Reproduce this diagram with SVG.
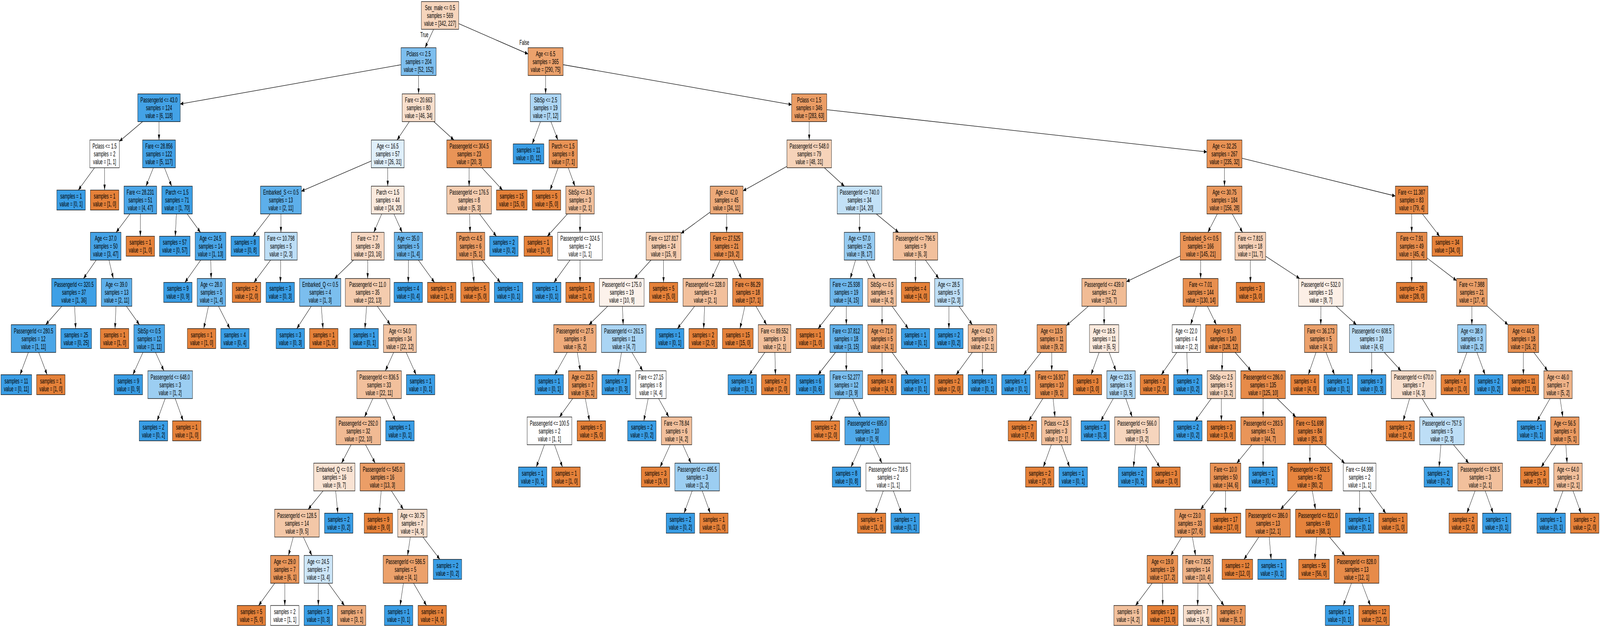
<svg xmlns="http://www.w3.org/2000/svg" width="7205" height="1604" viewBox="0 0 7205 1604" preserveAspectRatio="none">
<style>
svg{width:100vw;height:100vh}
.nd rect{stroke:#000;stroke-width:1.3}
.o{fill:#e58139}.b{fill:#399de5}.w{fill:#ffffff}
text{font-family:"Liberation Sans",Arial,Helvetica,sans-serif;font-size:18px;text-anchor:middle;fill:#000}
#edges line{stroke:#000;stroke-width:1.3;marker-end:url(#ah)}
</style>
<defs><marker id="ah" viewBox="0 0 14 10" refX="14" refY="5" markerWidth="14" markerHeight="10" markerUnits="userSpaceOnUse" orient="auto"><path d="M0,0L14,5L0,10z" fill="#000"/></marker></defs>
<rect x="0" y="0" width="7205" height="1604" fill="#ffffff"/>
<g id="edges">
<line x1="1952.5" y1="75" x2="1914" y2="122.1"/>
<line x1="2065.5" y1="60.4" x2="2378" y2="138"/>
<line x1="1806" y1="165.6" x2="811.5" y2="266.1"/>
<line x1="1885" y1="193.1" x2="1885" y2="240.2"/>
<line x1="642.3" y1="311.2" x2="537.5" y2="361.6"/>
<line x1="716" y1="311.2" x2="716" y2="358.2"/>
<line x1="425.6" y1="429.2" x2="352.6" y2="486.3"/>
<line x1="471" y1="429.2" x2="471" y2="486.3"/>
<line x1="690.7" y1="429.2" x2="657.3" y2="476.3"/>
<line x1="740.5" y1="429.2" x2="773" y2="476.3"/>
<line x1="585.1" y1="547.3" x2="522.9" y2="594.4"/>
<line x1="632" y1="547.3" x2="632" y2="604.4"/>
<line x1="433" y1="665.4" x2="376" y2="712.5"/>
<line x1="490.7" y1="665.4" x2="510.3" y2="712.5"/>
<line x1="278.3" y1="783.5" x2="205.7" y2="830.6"/>
<line x1="336" y1="783.5" x2="340.8" y2="840.6"/>
<line x1="127.7" y1="901.6" x2="90.2" y2="958.6"/>
<line x1="174.4" y1="901.6" x2="212.2" y2="958.6"/>
<line x1="522.3" y1="783.5" x2="517.9" y2="840.6"/>
<line x1="569.2" y1="783.5" x2="627.8" y2="830.6"/>
<line x1="643.7" y1="901.6" x2="598.3" y2="958.6"/>
<line x1="700.4" y1="901.6" x2="738.1" y2="948.6"/>
<line x1="743.8" y1="1019.6" x2="707.3" y2="1076.7"/>
<line x1="788.9" y1="1019.6" x2="824.9" y2="1076.7"/>
<line x1="794.3" y1="547.3" x2="789.3" y2="604.4"/>
<line x1="842.7" y1="547.3" x2="902.8" y2="594.4"/>
<line x1="903.8" y1="665.4" x2="832.7" y2="722.5"/>
<line x1="949.2" y1="665.4" x2="950.8" y2="712.5"/>
<line x1="938.8" y1="783.5" x2="917.5" y2="840.6"/>
<line x1="983.9" y1="783.5" x2="1035.1" y2="840.6"/>
<line x1="1843.2" y1="311.2" x2="1787.8" y2="358.2"/>
<line x1="1953.4" y1="311.2" x2="2044.1" y2="358.2"/>
<line x1="1672" y1="411.9" x2="1357" y2="489.2"/>
<line x1="1746" y1="429.2" x2="1746" y2="476.3"/>
<line x1="1216.6" y1="547.3" x2="1138.8" y2="604.4"/>
<line x1="1265" y1="547.3" x2="1265" y2="594.4"/>
<line x1="1218.4" y1="665.4" x2="1143.5" y2="722.5"/>
<line x1="1264.1" y1="665.4" x2="1262.6" y2="722.5"/>
<line x1="1718.9" y1="547.3" x2="1683.1" y2="594.4"/>
<line x1="1774" y1="547.3" x2="1811" y2="594.4"/>
<line x1="1591.7" y1="665.4" x2="1506.3" y2="712.5"/>
<line x1="1655.8" y1="665.4" x2="1655.6" y2="712.5"/>
<line x1="1401.6" y1="783.5" x2="1336.5" y2="840.6"/>
<line x1="1446.8" y1="783.5" x2="1454.5" y2="840.6"/>
<line x1="1650.8" y1="783.5" x2="1643.3" y2="840.6"/>
<line x1="1699.2" y1="783.5" x2="1757.3" y2="830.6"/>
<line x1="1772.7" y1="901.6" x2="1735.3" y2="948.6"/>
<line x1="1829" y1="901.6" x2="1873.9" y2="958.6"/>
<line x1="1678.9" y1="1019.6" x2="1641.6" y2="1066.7"/>
<line x1="1735.3" y1="1019.6" x2="1780.7" y2="1076.7"/>
<line x1="1581" y1="1137.7" x2="1538" y2="1184.8"/>
<line x1="1646.1" y1="1137.7" x2="1689.4" y2="1184.8"/>
<line x1="1454.8" y1="1255.8" x2="1387.7" y2="1302.9"/>
<line x1="1511.5" y1="1255.8" x2="1521.2" y2="1312.9"/>
<line x1="1320.6" y1="1373.9" x2="1298.9" y2="1421"/>
<line x1="1366" y1="1373.9" x2="1404.5" y2="1421"/>
<line x1="1237.3" y1="1492" x2="1164.5" y2="1549"/>
<line x1="1282.5" y1="1492" x2="1282.5" y2="1549"/>
<line x1="1433.5" y1="1492" x2="1433.5" y2="1549"/>
<line x1="1478.6" y1="1492" x2="1551.1" y2="1549"/>
<line x1="1716.6" y1="1255.8" x2="1707.9" y2="1312.9"/>
<line x1="1762.6" y1="1255.8" x2="1816.4" y2="1302.9"/>
<line x1="1847.7" y1="1373.9" x2="1835.3" y2="1421"/>
<line x1="1904.5" y1="1373.9" x2="1980.9" y2="1431"/>
<line x1="1816.7" y1="1492" x2="1801.7" y2="1549"/>
<line x1="1862.2" y1="1492" x2="1920.5" y2="1549"/>
<line x1="1839" y1="665.4" x2="1838.5" y2="722.5"/>
<line x1="1884.1" y1="665.4" x2="1956.6" y2="722.5"/>
<line x1="2112.5" y1="429.2" x2="2112.5" y2="476.3"/>
<line x1="2170.2" y1="429.2" x2="2263" y2="486.3"/>
<line x1="2114.5" y1="547.3" x2="2117" y2="594.4"/>
<line x1="2159.5" y1="547.3" x2="2235.2" y2="604.4"/>
<line x1="2125" y1="665.4" x2="2134.7" y2="722.5"/>
<line x1="2170.4" y1="665.4" x2="2253.1" y2="722.5"/>
<line x1="2457" y1="193.1" x2="2457" y2="240.2"/>
<line x1="2536" y1="165.5" x2="3565" y2="267.8"/>
<line x1="2433.9" y1="311.2" x2="2396.6" y2="368.2"/>
<line x1="2480.8" y1="311.2" x2="2512.2" y2="358.2"/>
<line x1="2513.5" y1="429.2" x2="2477.2" y2="486.3"/>
<line x1="2558.8" y1="429.2" x2="2589.2" y2="476.3"/>
<line x1="2555.5" y1="547.3" x2="2464.6" y2="604.4"/>
<line x1="2612" y1="547.3" x2="2612" y2="594.4"/>
<line x1="2566.9" y1="665.4" x2="2494.4" y2="722.5"/>
<line x1="2612" y1="665.4" x2="2612" y2="722.5"/>
<line x1="3644" y1="311.2" x2="3644" y2="358.2"/>
<line x1="3723" y1="280.7" x2="5435" y2="388.7"/>
<line x1="3543.5" y1="425.6" x2="3346" y2="488.3"/>
<line x1="3712.1" y1="429.2" x2="3802.4" y2="476.3"/>
<line x1="3198" y1="542.6" x2="3066.5" y2="597.3"/>
<line x1="3272" y1="547.3" x2="3272" y2="594.4"/>
<line x1="2931.5" y1="665.4" x2="2856.5" y2="712.5"/>
<line x1="2988" y1="665.4" x2="2988" y2="722.5"/>
<line x1="2736.6" y1="783.5" x2="2652.4" y2="830.6"/>
<line x1="2802.7" y1="783.5" x2="2806.3" y2="830.6"/>
<line x1="2554.1" y1="901.6" x2="2498.1" y2="958.6"/>
<line x1="2599.5" y1="901.6" x2="2613.5" y2="948.6"/>
<line x1="2579.1" y1="1019.6" x2="2519.4" y2="1066.7"/>
<line x1="2635.7" y1="1019.6" x2="2654.6" y2="1076.7"/>
<line x1="2451.7" y1="1137.7" x2="2414.9" y2="1194.8"/>
<line x1="2496.9" y1="1137.7" x2="2532.9" y2="1194.8"/>
<line x1="2798.7" y1="901.6" x2="2782" y2="958.6"/>
<line x1="2845.7" y1="901.6" x2="2894.3" y2="948.6"/>
<line x1="2918.8" y1="1019.6" x2="2899.2" y2="1076.7"/>
<line x1="2965.8" y1="1019.6" x2="3011.9" y2="1066.7"/>
<line x1="3018.2" y1="1137.7" x2="2972.5" y2="1194.8"/>
<line x1="3074.6" y1="1137.7" x2="3111.7" y2="1184.8"/>
<line x1="3116.9" y1="1255.8" x2="3080.3" y2="1312.9"/>
<line x1="3162.2" y1="1255.8" x2="3198.5" y2="1312.9"/>
<line x1="3243.1" y1="665.4" x2="3204.9" y2="712.5"/>
<line x1="3300.9" y1="665.4" x2="3339.1" y2="712.5"/>
<line x1="3127.9" y1="783.5" x2="3050.6" y2="840.6"/>
<line x1="3173.1" y1="783.5" x2="3168.6" y2="840.6"/>
<line x1="3354.3" y1="783.5" x2="3332.3" y2="840.6"/>
<line x1="3404.1" y1="783.5" x2="3451.9" y2="830.6"/>
<line x1="3444.3" y1="901.6" x2="3373.9" y2="958.6"/>
<line x1="3489.5" y1="901.6" x2="3491.9" y2="958.6"/>
<line x1="3870.5" y1="547.3" x2="3870.5" y2="594.4"/>
<line x1="3946.1" y1="547.3" x2="4046.4" y2="594.4"/>
<line x1="3852.6" y1="665.4" x2="3828.9" y2="712.5"/>
<line x1="3901" y1="665.4" x2="3941.5" y2="712.5"/>
<line x1="3762.3" y1="783.5" x2="3684" y2="840.6"/>
<line x1="3811" y1="783.5" x2="3811" y2="830.6"/>
<line x1="3762.3" y1="901.6" x2="3684" y2="958.6"/>
<line x1="3811" y1="901.6" x2="3811" y2="948.6"/>
<line x1="3782.7" y1="1019.6" x2="3737.3" y2="1076.7"/>
<line x1="3839.3" y1="1019.6" x2="3876.7" y2="1066.7"/>
<line x1="3877" y1="1137.7" x2="3832.1" y2="1194.8"/>
<line x1="3933.6" y1="1137.7" x2="3971.4" y2="1184.8"/>
<line x1="3977.5" y1="1255.8" x2="3941.2" y2="1312.9"/>
<line x1="4022.8" y1="1255.8" x2="4059.6" y2="1312.9"/>
<line x1="3972" y1="783.5" x2="3972" y2="830.6"/>
<line x1="4017.2" y1="783.5" x2="4090" y2="840.6"/>
<line x1="3972" y1="901.6" x2="3972" y2="958.6"/>
<line x1="4017.2" y1="901.6" x2="4090" y2="958.6"/>
<line x1="4122" y1="665.4" x2="4122.5" y2="722.5"/>
<line x1="4167.4" y1="665.4" x2="4227.6" y2="712.5"/>
<line x1="4273" y1="783.5" x2="4273" y2="840.6"/>
<line x1="4318.4" y1="783.5" x2="4378.6" y2="830.6"/>
<line x1="4378.6" y1="901.6" x2="4305.6" y2="958.6"/>
<line x1="4424" y1="901.6" x2="4424" y2="958.6"/>
<line x1="5514" y1="429.2" x2="5514" y2="476.3"/>
<line x1="5593" y1="404.8" x2="6283.5" y2="501.5"/>
<line x1="5481.8" y1="547.3" x2="5439.2" y2="594.4"/>
<line x1="5549" y1="547.3" x2="5595.5" y2="594.4"/>
<line x1="5315" y1="654.9" x2="5072.5" y2="720.7"/>
<line x1="5407" y1="665.4" x2="5406.5" y2="712.5"/>
<line x1="4901" y1="783.5" x2="4802" y2="833.1"/>
<line x1="4972" y1="783.5" x2="4972" y2="830.6"/>
<line x1="4687.5" y1="901.6" x2="4609.5" y2="958.6"/>
<line x1="4736" y1="901.6" x2="4736" y2="948.6"/>
<line x1="4696.3" y1="1019.6" x2="4632.5" y2="1076.7"/>
<line x1="4742.3" y1="1019.6" x2="4750.7" y2="1066.7"/>
<line x1="4734.5" y1="1137.7" x2="4698.2" y2="1194.8"/>
<line x1="4779.8" y1="1137.7" x2="4816.6" y2="1194.8"/>
<line x1="4949.5" y1="901.6" x2="4913.2" y2="958.6"/>
<line x1="4994.8" y1="901.6" x2="5025.2" y2="948.6"/>
<line x1="5013.1" y1="1019.6" x2="4957.1" y2="1076.7"/>
<line x1="5069.6" y1="1019.6" x2="5098.4" y2="1066.7"/>
<line x1="5114" y1="1137.7" x2="5104.3" y2="1194.8"/>
<line x1="5159.4" y1="1137.7" x2="5222.7" y2="1194.8"/>
<line x1="5387.3" y1="783.5" x2="5361.7" y2="830.6"/>
<line x1="5437" y1="783.5" x2="5477.5" y2="830.6"/>
<line x1="5299.2" y1="901.6" x2="5229.6" y2="958.6"/>
<line x1="5344.5" y1="901.6" x2="5347.6" y2="958.6"/>
<line x1="5505.6" y1="901.6" x2="5502.4" y2="948.6"/>
<line x1="5562.1" y1="901.6" x2="5633.9" y2="948.6"/>
<line x1="5454.6" y1="1019.6" x2="5381.6" y2="1076.7"/>
<line x1="5500" y1="1019.6" x2="5500" y2="1076.7"/>
<line x1="5688" y1="1019.6" x2="5688" y2="1066.7"/>
<line x1="5751.3" y1="1019.6" x2="5835.3" y2="1066.7"/>
<line x1="5637.1" y1="1137.7" x2="5569.5" y2="1184.8"/>
<line x1="5688" y1="1137.7" x2="5688" y2="1194.8"/>
<line x1="5470.5" y1="1255.8" x2="5406.7" y2="1302.9"/>
<line x1="5518.6" y1="1255.8" x2="5518.6" y2="1312.9"/>
<line x1="5321.4" y1="1373.9" x2="5271.9" y2="1421"/>
<line x1="5369.4" y1="1373.9" x2="5383.8" y2="1421"/>
<line x1="5188.2" y1="1492" x2="5113.4" y2="1549"/>
<line x1="5234.7" y1="1492" x2="5236" y2="1549"/>
<line x1="5394.6" y1="1492" x2="5393" y2="1549"/>
<line x1="5439.5" y1="1492" x2="5511.7" y2="1549"/>
<line x1="5898.6" y1="1137.7" x2="5898.6" y2="1184.8"/>
<line x1="5965.9" y1="1137.7" x2="6055.2" y2="1184.8"/>
<line x1="5841.9" y1="1255.8" x2="5766.7" y2="1302.9"/>
<line x1="5909.4" y1="1255.8" x2="5923.8" y2="1302.9"/>
<line x1="5668.5" y1="1373.9" x2="5601.8" y2="1431"/>
<line x1="5715.4" y1="1373.9" x2="5724.1" y2="1431"/>
<line x1="5929.3" y1="1373.9" x2="5920.8" y2="1431"/>
<line x1="5987" y1="1373.9" x2="6056.6" y2="1421"/>
<line x1="6085.9" y1="1492" x2="6048.6" y2="1549"/>
<line x1="6132.8" y1="1492" x2="6170.9" y2="1549"/>
<line x1="6122.5" y1="1255.8" x2="6122.5" y2="1312.9"/>
<line x1="6167.7" y1="1255.8" x2="6240.5" y2="1312.9"/>
<line x1="5630.5" y1="665.4" x2="5630.8" y2="722.5"/>
<line x1="5699.5" y1="655.6" x2="5852.5" y2="712.5"/>
<line x1="5948" y1="783.5" x2="5947.6" y2="830.6"/>
<line x1="6016.8" y1="783.5" x2="6108.2" y2="830.6"/>
<line x1="5926.1" y1="901.6" x2="5891.5" y2="958.6"/>
<line x1="5971.3" y1="901.6" x2="6009.5" y2="958.6"/>
<line x1="6177" y1="901.6" x2="6177" y2="958.6"/>
<line x1="6233.7" y1="901.6" x2="6309" y2="948.6"/>
<line x1="6347.6" y1="1019.6" x2="6318.6" y2="1076.7"/>
<line x1="6404.1" y1="1019.6" x2="6455" y2="1066.7"/>
<line x1="6488.5" y1="1137.7" x2="6480.5" y2="1194.8"/>
<line x1="6545.1" y1="1137.7" x2="6613.8" y2="1184.8"/>
<line x1="6642.5" y1="1255.8" x2="6605.5" y2="1312.9"/>
<line x1="6687.9" y1="1255.8" x2="6723.9" y2="1312.9"/>
<line x1="6357" y1="547.3" x2="6357" y2="594.4"/>
<line x1="6405.3" y1="547.3" x2="6482.9" y2="604.4"/>
<line x1="6357" y1="665.4" x2="6357" y2="722.5"/>
<line x1="6426" y1="660" x2="6559" y2="717.9"/>
<line x1="6628" y1="783.5" x2="6628" y2="830.6"/>
<line x1="6697" y1="783.1" x2="6791" y2="831"/>
<line x1="6605.5" y1="901.6" x2="6569.2" y2="958.6"/>
<line x1="6650.8" y1="901.6" x2="6687.6" y2="958.6"/>
<line x1="6860" y1="901.6" x2="6860" y2="958.6"/>
<line x1="6906.9" y1="901.6" x2="6969.1" y2="948.6"/>
<line x1="6979.9" y1="1019.6" x2="6921.9" y2="1076.7"/>
<line x1="7025.3" y1="1019.6" x2="7037.7" y2="1066.7"/>
<line x1="7006.1" y1="1137.7" x2="6940.4" y2="1194.8"/>
<line x1="7051.2" y1="1137.7" x2="7056.8" y2="1184.8"/>
<line x1="7038.2" y1="1255.8" x2="7001.4" y2="1312.9"/>
<line x1="7083.5" y1="1255.8" x2="7119.8" y2="1312.9"/>
</g>
<g id="edge-labels">
<text x="1911" y="95.5">True</text>
<text x="2361" y="115.5">False</text>
</g>
<g id="nodes" class="nd">
<g id="n0"><rect class="o" fill-opacity="0.336" x="1897.5" y="4" width="168" height="71"/><text x="1981.5" y="26">Sex_male &lt;= 0.5<tspan x="1981.5" dy="20">samples = 569</tspan><tspan x="1981.5" dy="20">value = [342, 227]</tspan></text></g>
<g id="n1"><rect class="b" fill-opacity="0.658" x="1806" y="122.1" width="158" height="71"/><text x="1885" y="144.1">Pclass &lt;= 2.5<tspan x="1885" dy="20">samples = 204</tspan><tspan x="1885" dy="20">value = [52, 152]</tspan></text></g>
<g id="n2"><rect class="b" fill-opacity="0.949" x="620.5" y="240.2" width="191" height="71"/><text x="716" y="262.2">PassengerId &lt;= 43.0<tspan x="716" dy="20">samples = 124</tspan><tspan x="716" dy="20">value = [6, 118]</tspan></text></g>
<g id="n3"><rect class="w" x="404.5" y="358.2" width="133" height="71"/><text x="471" y="380.2">Pclass &lt;= 1.5<tspan x="471" dy="20">samples = 2</tspan><tspan x="471" dy="20">value = [1, 1]</tspan></text></g>
<g id="n4"><rect class="b" x="256" y="486.3" width="128" height="51"/><text x="320" y="508.3">samples = 1<tspan x="320" dy="20">value = [0, 1]</tspan></text></g>
<g id="n5"><rect class="o" x="407" y="486.3" width="128" height="51"/><text x="471" y="508.3">samples = 1<tspan x="471" dy="20">value = [1, 0]</tspan></text></g>
<g id="n6"><rect class="b" fill-opacity="0.957" x="642" y="358.2" width="148" height="71"/><text x="716" y="380.2">Fare &lt;= 28.856<tspan x="716" dy="20">samples = 122</tspan><tspan x="716" dy="20">value = [5, 117]</tspan></text></g>
<g id="n7"><rect class="b" fill-opacity="0.915" x="558.5" y="476.3" width="147" height="71"/><text x="632" y="498.3">Fare &lt;= 28.231<tspan x="632" dy="20">samples = 51</tspan><tspan x="632" dy="20">value = [4, 47]</tspan></text></g>
<g id="n8"><rect class="b" fill-opacity="0.936" x="407" y="594.4" width="138" height="71"/><text x="476" y="616.4">Age &lt;= 37.0<tspan x="476" dy="20">samples = 50</tspan><tspan x="476" dy="20">value = [3, 47]</tspan></text></g>
<g id="n9"><rect class="b" fill-opacity="0.972" x="232.5" y="712.5" width="201" height="71"/><text x="333" y="734.5">PassengerId &lt;= 320.5<tspan x="333" dy="20">samples = 37</tspan><tspan x="333" dy="20">value = [1, 36]</tspan></text></g>
<g id="n10"><rect class="b" fill-opacity="0.909" x="50.5" y="830.6" width="201" height="71"/><text x="151" y="852.6">PassengerId &lt;= 280.5<tspan x="151" dy="20">samples = 12</tspan><tspan x="151" dy="20">value = [1, 11]</tspan></text></g>
<g id="n11"><rect class="b" x="4.5" y="958.6" width="138" height="51"/><text x="73.5" y="980.6">samples = 11<tspan x="73.5" dy="20">value = [0, 11]</tspan></text></g>
<g id="n12"><rect class="o" x="165" y="958.6" width="128" height="51"/><text x="229" y="980.6">samples = 1<tspan x="229" dy="20">value = [1, 0]</tspan></text></g>
<g id="n13"><rect class="b" x="274" y="840.6" width="138" height="51"/><text x="343" y="862.6">samples = 25<tspan x="343" dy="20">value = [0, 25]</tspan></text></g>
<g id="n14"><rect class="b" fill-opacity="0.818" x="456" y="712.5" width="138" height="71"/><text x="525" y="734.5">Age &lt;= 39.0<tspan x="525" dy="20">samples = 13</tspan><tspan x="525" dy="20">value = [2, 11]</tspan></text></g>
<g id="n15"><rect class="o" x="452" y="840.6" width="128" height="51"/><text x="516" y="862.6">samples = 1<tspan x="516" dy="20">value = [1, 0]</tspan></text></g>
<g id="n16"><rect class="b" fill-opacity="0.909" x="603" y="830.6" width="138" height="71"/><text x="672" y="852.6">SibSp &lt;= 0.5<tspan x="672" dy="20">samples = 12</tspan><tspan x="672" dy="20">value = [1, 11]</tspan></text></g>
<g id="n17"><rect class="b" x="514" y="958.6" width="128" height="51"/><text x="578" y="980.6">samples = 9<tspan x="578" dy="20">value = [0, 9]</tspan></text></g>
<g id="n18"><rect class="b" fill-opacity="0.5" x="666" y="948.6" width="201" height="71"/><text x="766.5" y="970.6">PassengerId &lt;= 648.0<tspan x="766.5" dy="20">samples = 3</tspan><tspan x="766.5" dy="20">value = [1, 2]</tspan></text></g>
<g id="n19"><rect class="b" x="627" y="1076.7" width="128" height="51"/><text x="691" y="1098.7">samples = 2<tspan x="691" dy="20">value = [0, 2]</tspan></text></g>
<g id="n20"><rect class="o" x="777" y="1076.7" width="128" height="51"/><text x="841" y="1098.7">samples = 1<tspan x="841" dy="20">value = [1, 0]</tspan></text></g>
<g id="n21"><rect class="o" x="568" y="604.4" width="128" height="51"/><text x="632" y="626.4">samples = 1<tspan x="632" dy="20">value = [1, 0]</tspan></text></g>
<g id="n22"><rect class="b" fill-opacity="0.986" x="728.5" y="476.3" width="138" height="71"/><text x="797.5" y="498.3">Parch &lt;= 1.5<tspan x="797.5" dy="20">samples = 71</tspan><tspan x="797.5" dy="20">value = [1, 70]</tspan></text></g>
<g id="n23"><rect class="b" x="718" y="604.4" width="138" height="51"/><text x="787" y="626.4">samples = 57<tspan x="787" dy="20">value = [0, 57]</tspan></text></g>
<g id="n24"><rect class="b" fill-opacity="0.923" x="879" y="594.4" width="138" height="71"/><text x="948" y="616.4">Age &lt;= 24.5<tspan x="948" dy="20">samples = 14</tspan><tspan x="948" dy="20">value = [1, 13]</tspan></text></g>
<g id="n25"><rect class="b" x="737" y="722.5" width="128" height="51"/><text x="801" y="744.5">samples = 9<tspan x="801" dy="20">value = [0, 9]</tspan></text></g>
<g id="n26"><rect class="b" fill-opacity="0.75" x="888" y="712.5" width="128" height="71"/><text x="952" y="734.5">Age &lt;= 28.0<tspan x="952" dy="20">samples = 5</tspan><tspan x="952" dy="20">value = [1, 4]</tspan></text></g>
<g id="n27"><rect class="o" x="844" y="840.6" width="128" height="51"/><text x="908" y="862.6">samples = 1<tspan x="908" dy="20">value = [1, 0]</tspan></text></g>
<g id="n28"><rect class="b" x="994" y="840.6" width="128" height="51"/><text x="1058" y="862.6">samples = 4<tspan x="1058" dy="20">value = [0, 4]</tspan></text></g>
<g id="n29"><rect class="o" fill-opacity="0.261" x="1811" y="240.2" width="148" height="71"/><text x="1885" y="262.2">Fare &lt;= 20.663<tspan x="1885" dy="20">samples = 80</tspan><tspan x="1885" dy="20">value = [46, 34]</tspan></text></g>
<g id="n30"><rect class="b" fill-opacity="0.161" x="1672" y="358.2" width="148" height="71"/><text x="1746" y="380.2">Age &lt;= 16.5<tspan x="1746" dy="20">samples = 57</tspan><tspan x="1746" dy="20">value = [26, 31]</tspan></text></g>
<g id="n31"><rect class="b" fill-opacity="0.818" x="1173" y="476.3" width="184" height="71"/><text x="1265" y="498.3">Embarked_S &lt;= 0.5<tspan x="1265" dy="20">samples = 13</tspan><tspan x="1265" dy="20">value = [2, 11]</tspan></text></g>
<g id="n32"><rect class="b" x="1040" y="604.4" width="128" height="51"/><text x="1104" y="626.4">samples = 8<tspan x="1104" dy="20">value = [0, 8]</tspan></text></g>
<g id="n33"><rect class="b" fill-opacity="0.333" x="1191.5" y="594.4" width="147" height="71"/><text x="1265" y="616.4">Fare &lt;= 10.798<tspan x="1265" dy="20">samples = 5</tspan><tspan x="1265" dy="20">value = [2, 3]</tspan></text></g>
<g id="n34"><rect class="o" x="1046" y="722.5" width="128" height="51"/><text x="1110" y="744.5">samples = 2<tspan x="1110" dy="20">value = [2, 0]</tspan></text></g>
<g id="n35"><rect class="b" x="1198" y="722.5" width="128" height="51"/><text x="1262" y="744.5">samples = 3<tspan x="1262" dy="20">value = [0, 3]</tspan></text></g>
<g id="n36"><rect class="o" fill-opacity="0.167" x="1672" y="476.3" width="148" height="71"/><text x="1746" y="498.3">Parch &lt;= 1.5<tspan x="1746" dy="20">samples = 44</tspan><tspan x="1746" dy="20">value = [24, 20]</tspan></text></g>
<g id="n37"><rect class="o" fill-opacity="0.304" x="1582" y="594.4" width="148" height="71"/><text x="1656" y="616.4">Fare &lt;= 7.7<tspan x="1656" dy="20">samples = 39</tspan><tspan x="1656" dy="20">value = [23, 16]</tspan></text></g>
<g id="n38"><rect class="b" fill-opacity="0.667" x="1349" y="712.5" width="186" height="71"/><text x="1442" y="734.5">Embarked_Q &lt;= 0.5<tspan x="1442" dy="20">samples = 4</tspan><tspan x="1442" dy="20">value = [1, 3]</tspan></text></g>
<g id="n39"><rect class="b" x="1243.5" y="840.6" width="128" height="51"/><text x="1307.5" y="862.6">samples = 3<tspan x="1307.5" dy="20">value = [0, 3]</tspan></text></g>
<g id="n40"><rect class="o" x="1394" y="840.6" width="128" height="51"/><text x="1458" y="862.6">samples = 1<tspan x="1458" dy="20">value = [1, 0]</tspan></text></g>
<g id="n41"><rect class="o" fill-opacity="0.409" x="1555" y="712.5" width="201" height="71"/><text x="1655.5" y="734.5">PassengerId &lt;= 11.0<tspan x="1655.5" dy="20">samples = 35</tspan><tspan x="1655.5" dy="20">value = [22, 13]</tspan></text></g>
<g id="n42"><rect class="b" x="1576" y="840.6" width="128" height="51"/><text x="1640" y="862.6">samples = 1<tspan x="1640" dy="20">value = [0, 1]</tspan></text></g>
<g id="n43"><rect class="o" fill-opacity="0.455" x="1727" y="830.6" width="148" height="71"/><text x="1801" y="852.6">Age &lt;= 54.0<tspan x="1801" dy="20">samples = 34</tspan><tspan x="1801" dy="20">value = [22, 12]</tspan></text></g>
<g id="n44"><rect class="o" fill-opacity="0.5" x="1606.5" y="948.6" width="201" height="71"/><text x="1707" y="970.6">PassengerId &lt;= 836.5<tspan x="1707" dy="20">samples = 33</tspan><tspan x="1707" dy="20">value = [22, 11]</tspan></text></g>
<g id="n45"><rect class="o" fill-opacity="0.545" x="1513" y="1066.7" width="201" height="71"/><text x="1613.5" y="1088.7">PassengerId &lt;= 292.0<tspan x="1613.5" dy="20">samples = 32</tspan><tspan x="1613.5" dy="20">value = [22, 10]</tspan></text></g>
<g id="n46"><rect class="o" fill-opacity="0.222" x="1412.5" y="1184.8" width="186" height="71"/><text x="1505.5" y="1206.8">Embarked_Q &lt;= 0.5<tspan x="1505.5" dy="20">samples = 16</tspan><tspan x="1505.5" dy="20">value = [9, 7]</tspan></text></g>
<g id="n47"><rect class="o" fill-opacity="0.444" x="1236.5" y="1302.9" width="201" height="71"/><text x="1337" y="1324.9">PassengerId &lt;= 128.5<tspan x="1337" dy="20">samples = 14</tspan><tspan x="1337" dy="20">value = [9, 5]</tspan></text></g>
<g id="n48"><rect class="o" fill-opacity="0.833" x="1218.5" y="1421" width="128" height="71"/><text x="1282.5" y="1443">Age &lt;= 29.0<tspan x="1282.5" dy="20">samples = 7</tspan><tspan x="1282.5" dy="20">value = [6, 1]</tspan></text></g>
<g id="n49"><rect class="o" x="1068" y="1549" width="128" height="51"/><text x="1132" y="1571">samples = 5<tspan x="1132" dy="20">value = [5, 0]</tspan></text></g>
<g id="n50"><rect class="w" x="1218.5" y="1549" width="128" height="51"/><text x="1282.5" y="1571">samples = 2<tspan x="1282.5" dy="20">value = [1, 1]</tspan></text></g>
<g id="n51"><rect class="b" fill-opacity="0.25" x="1369.5" y="1421" width="128" height="71"/><text x="1433.5" y="1443">Age &lt;= 24.5<tspan x="1433.5" dy="20">samples = 7</tspan><tspan x="1433.5" dy="20">value = [3, 4]</tspan></text></g>
<g id="n52"><rect class="b" x="1369.5" y="1549" width="128" height="51"/><text x="1433.5" y="1571">samples = 3<tspan x="1433.5" dy="20">value = [0, 3]</tspan></text></g>
<g id="n53"><rect class="o" fill-opacity="0.667" x="1519.5" y="1549" width="128" height="51"/><text x="1583.5" y="1571">samples = 4<tspan x="1583.5" dy="20">value = [3, 1]</tspan></text></g>
<g id="n54"><rect class="b" x="1461.5" y="1312.9" width="128" height="51"/><text x="1525.5" y="1334.9">samples = 2<tspan x="1525.5" dy="20">value = [0, 2]</tspan></text></g>
<g id="n55"><rect class="o" fill-opacity="0.769" x="1621.5" y="1184.8" width="201" height="71"/><text x="1722" y="1206.8">PassengerId &lt;= 545.0<tspan x="1722" dy="20">samples = 16</tspan><tspan x="1722" dy="20">value = [13, 3]</tspan></text></g>
<g id="n56"><rect class="o" x="1640" y="1312.9" width="128" height="51"/><text x="1704" y="1334.9">samples = 9<tspan x="1704" dy="20">value = [9, 0]</tspan></text></g>
<g id="n57"><rect class="o" fill-opacity="0.25" x="1791" y="1302.9" width="132" height="71"/><text x="1857" y="1324.9">Age &lt;= 30.75<tspan x="1857" dy="20">samples = 7</tspan><tspan x="1857" dy="20">value = [4, 3]</tspan></text></g>
<g id="n58"><rect class="o" fill-opacity="0.75" x="1725.5" y="1421" width="201" height="71"/><text x="1826" y="1443">PassengerId &lt;= 586.5<tspan x="1826" dy="20">samples = 5</tspan><tspan x="1826" dy="20">value = [4, 1]</tspan></text></g>
<g id="n59"><rect class="b" x="1731" y="1549" width="128" height="51"/><text x="1795" y="1571">samples = 1<tspan x="1795" dy="20">value = [0, 1]</tspan></text></g>
<g id="n60"><rect class="o" x="1882.5" y="1549" width="128" height="51"/><text x="1946.5" y="1571">samples = 4<tspan x="1946.5" dy="20">value = [4, 0]</tspan></text></g>
<g id="n61"><rect class="b" x="1951" y="1431" width="128" height="51"/><text x="2015" y="1453">samples = 2<tspan x="2015" dy="20">value = [0, 2]</tspan></text></g>
<g id="n62"><rect class="b" x="1737" y="1076.7" width="128" height="51"/><text x="1801" y="1098.7">samples = 1<tspan x="1801" dy="20">value = [0, 1]</tspan></text></g>
<g id="n63"><rect class="b" x="1830" y="958.6" width="128" height="51"/><text x="1894" y="980.6">samples = 1<tspan x="1894" dy="20">value = [0, 1]</tspan></text></g>
<g id="n64"><rect class="b" fill-opacity="0.75" x="1775" y="594.4" width="128" height="71"/><text x="1839" y="616.4">Age &lt;= 35.0<tspan x="1839" dy="20">samples = 5</tspan><tspan x="1839" dy="20">value = [1, 4]</tspan></text></g>
<g id="n65"><rect class="b" x="1774.5" y="722.5" width="128" height="51"/><text x="1838.5" y="744.5">samples = 4<tspan x="1838.5" dy="20">value = [0, 4]</tspan></text></g>
<g id="n66"><rect class="o" x="1925" y="722.5" width="128" height="51"/><text x="1989" y="744.5">samples = 1<tspan x="1989" dy="20">value = [1, 0]</tspan></text></g>
<g id="n67"><rect class="o" fill-opacity="0.85" x="2012" y="358.2" width="201" height="71"/><text x="2112.5" y="380.2">PassengerId &lt;= 304.5<tspan x="2112.5" dy="20">samples = 23</tspan><tspan x="2112.5" dy="20">value = [20, 3]</tspan></text></g>
<g id="n68"><rect class="o" fill-opacity="0.4" x="2012" y="476.3" width="201" height="71"/><text x="2112.5" y="498.3">PassengerId &lt;= 176.5<tspan x="2112.5" dy="20">samples = 8</tspan><tspan x="2112.5" dy="20">value = [5, 3]</tspan></text></g>
<g id="n69"><rect class="o" fill-opacity="0.8" x="2055" y="594.4" width="128" height="71"/><text x="2119" y="616.4">Parch &lt;= 4.5<tspan x="2119" dy="20">samples = 6</tspan><tspan x="2119" dy="20">value = [5, 1]</tspan></text></g>
<g id="n70"><rect class="o" x="2075" y="722.5" width="128" height="51"/><text x="2139" y="744.5">samples = 5<tspan x="2139" dy="20">value = [5, 0]</tspan></text></g>
<g id="n71"><rect class="b" x="2226" y="722.5" width="128" height="51"/><text x="2290" y="744.5">samples = 1<tspan x="2290" dy="20">value = [0, 1]</tspan></text></g>
<g id="n72"><rect class="b" x="2205" y="604.4" width="128" height="51"/><text x="2269" y="626.4">samples = 2<tspan x="2269" dy="20">value = [0, 2]</tspan></text></g>
<g id="n73"><rect class="o" x="2235.5" y="486.3" width="138" height="51"/><text x="2304.5" y="508.3">samples = 15<tspan x="2304.5" dy="20">value = [15, 0]</tspan></text></g>
<g id="n74"><rect class="o" fill-opacity="0.741" x="2378" y="122.1" width="158" height="71"/><text x="2457" y="144.1">Age &lt;= 6.5<tspan x="2457" dy="20">samples = 365</tspan><tspan x="2457" dy="20">value = [290, 75]</tspan></text></g>
<g id="n75"><rect class="b" fill-opacity="0.417" x="2388" y="240.2" width="138" height="71"/><text x="2457" y="262.2">SibSp &lt;= 2.5<tspan x="2457" dy="20">samples = 19</tspan><tspan x="2457" dy="20">value = [7, 12]</tspan></text></g>
<g id="n76"><rect class="b" x="2311" y="368.2" width="138" height="51"/><text x="2380" y="390.2">samples = 11<tspan x="2380" dy="20">value = [0, 11]</tspan></text></g>
<g id="n77"><rect class="o" fill-opacity="0.857" x="2472" y="358.2" width="128" height="71"/><text x="2536" y="380.2">Parch &lt;= 1.5<tspan x="2536" dy="20">samples = 8</tspan><tspan x="2536" dy="20">value = [7, 1]</tspan></text></g>
<g id="n78"><rect class="o" x="2397" y="486.3" width="128" height="51"/><text x="2461" y="508.3">samples = 5<tspan x="2461" dy="20">value = [5, 0]</tspan></text></g>
<g id="n79"><rect class="o" fill-opacity="0.5" x="2548" y="476.3" width="128" height="71"/><text x="2612" y="498.3">SibSp &lt;= 3.5<tspan x="2612" dy="20">samples = 3</tspan><tspan x="2612" dy="20">value = [2, 1]</tspan></text></g>
<g id="n80"><rect class="o" x="2360" y="604.4" width="128" height="51"/><text x="2424" y="626.4">samples = 1<tspan x="2424" dy="20">value = [1, 0]</tspan></text></g>
<g id="n81"><rect class="w" x="2511.5" y="594.4" width="201" height="71"/><text x="2612" y="616.4">PassengerId &lt;= 324.5<tspan x="2612" dy="20">samples = 2</tspan><tspan x="2612" dy="20">value = [1, 1]</tspan></text></g>
<g id="n82"><rect class="b" x="2398" y="722.5" width="128" height="51"/><text x="2462" y="744.5">samples = 1<tspan x="2462" dy="20">value = [0, 1]</tspan></text></g>
<g id="n83"><rect class="o" x="2548" y="722.5" width="128" height="51"/><text x="2612" y="744.5">samples = 1<tspan x="2612" dy="20">value = [1, 0]</tspan></text></g>
<g id="n84"><rect class="o" fill-opacity="0.777" x="3565" y="240.2" width="158" height="71"/><text x="3644" y="262.2">Pclass &lt;= 1.5<tspan x="3644" dy="20">samples = 346</tspan><tspan x="3644" dy="20">value = [283, 63]</tspan></text></g>
<g id="n85"><rect class="o" fill-opacity="0.354" x="3543.5" y="358.2" width="201" height="71"/><text x="3644" y="380.2">PassengerId &lt;= 548.0<tspan x="3644" dy="20">samples = 79</tspan><tspan x="3644" dy="20">value = [48, 31]</tspan></text></g>
<g id="n86"><rect class="o" fill-opacity="0.676" x="3198" y="476.3" width="148" height="71"/><text x="3272" y="498.3">Age &lt;= 42.0<tspan x="3272" dy="20">samples = 45</tspan><tspan x="3272" dy="20">value = [34, 11]</tspan></text></g>
<g id="n87"><rect class="o" fill-opacity="0.4" x="2909.5" y="594.4" width="157" height="71"/><text x="2988" y="616.4">Fare &lt;= 127.817<tspan x="2988" dy="20">samples = 24</tspan><tspan x="2988" dy="20">value = [15, 9]</tspan></text></g>
<g id="n88"><rect class="o" fill-opacity="0.1" x="2699.5" y="712.5" width="201" height="71"/><text x="2800" y="734.5">PassengerId &lt;= 175.0<tspan x="2800" dy="20">samples = 19</tspan><tspan x="2800" dy="20">value = [10, 9]</tspan></text></g>
<g id="n89"><rect class="o" fill-opacity="0.667" x="2493.5" y="830.6" width="191" height="71"/><text x="2589" y="852.6">PassengerId &lt;= 27.5<tspan x="2589" dy="20">samples = 8</tspan><tspan x="2589" dy="20">value = [6, 2]</tspan></text></g>
<g id="n90"><rect class="b" x="2409" y="958.6" width="128" height="51"/><text x="2473" y="980.6">samples = 1<tspan x="2473" dy="20">value = [0, 1]</tspan></text></g>
<g id="n91"><rect class="o" fill-opacity="0.833" x="2560" y="948.6" width="128" height="71"/><text x="2624" y="970.6">Age &lt;= 23.5<tspan x="2624" dy="20">samples = 7</tspan><tspan x="2624" dy="20">value = [6, 1]</tspan></text></g>
<g id="n92"><rect class="w" x="2374" y="1066.7" width="201" height="71"/><text x="2474.5" y="1088.7">PassengerId &lt;= 100.5<tspan x="2474.5" dy="20">samples = 2</tspan><tspan x="2474.5" dy="20">value = [1, 1]</tspan></text></g>
<g id="n93"><rect class="b" x="2334.5" y="1194.8" width="128" height="51"/><text x="2398.5" y="1216.8">samples = 1<tspan x="2398.5" dy="20">value = [0, 1]</tspan></text></g>
<g id="n94"><rect class="o" x="2485" y="1194.8" width="128" height="51"/><text x="2549" y="1216.8">samples = 1<tspan x="2549" dy="20">value = [1, 0]</tspan></text></g>
<g id="n95"><rect class="o" x="2599" y="1076.7" width="128" height="51"/><text x="2663" y="1098.7">samples = 5<tspan x="2663" dy="20">value = [5, 0]</tspan></text></g>
<g id="n96"><rect class="b" fill-opacity="0.429" x="2708.5" y="830.6" width="201" height="71"/><text x="2809" y="852.6">PassengerId &lt;= 261.5<tspan x="2809" dy="20">samples = 11</tspan><tspan x="2809" dy="20">value = [4, 7]</tspan></text></g>
<g id="n97"><rect class="b" x="2710.6" y="958.6" width="128" height="51"/><text x="2774.6" y="980.6">samples = 3<tspan x="2774.6" dy="20">value = [0, 3]</tspan></text></g>
<g id="n98"><rect class="w" x="2862.5" y="948.6" width="137" height="71"/><text x="2931" y="970.6">Fare &lt;= 27.15<tspan x="2931" dy="20">samples = 8</tspan><tspan x="2931" dy="20">value = [4, 4]</tspan></text></g>
<g id="n99"><rect class="b" x="2826.5" y="1076.7" width="128" height="51"/><text x="2890.5" y="1098.7">samples = 2<tspan x="2890.5" dy="20">value = [0, 2]</tspan></text></g>
<g id="n100"><rect class="o" fill-opacity="0.5" x="2978.2" y="1066.7" width="137" height="71"/><text x="3046.7" y="1088.7">Fare &lt;= 78.84<tspan x="3046.7" dy="20">samples = 6</tspan><tspan x="3046.7" dy="20">value = [4, 2]</tspan></text></g>
<g id="n101"><rect class="o" x="2888" y="1194.8" width="128" height="51"/><text x="2952" y="1216.8">samples = 3<tspan x="2952" dy="20">value = [3, 0]</tspan></text></g>
<g id="n102"><rect class="b" fill-opacity="0.5" x="3039.1" y="1184.8" width="201" height="71"/><text x="3139.6" y="1206.8">PassengerId &lt;= 495.5<tspan x="3139.6" dy="20">samples = 3</tspan><tspan x="3139.6" dy="20">value = [1, 2]</tspan></text></g>
<g id="n103"><rect class="b" x="3000" y="1312.9" width="128" height="51"/><text x="3064" y="1334.9">samples = 2<tspan x="3064" dy="20">value = [0, 2]</tspan></text></g>
<g id="n104"><rect class="o" x="3150.7" y="1312.9" width="128" height="51"/><text x="3214.7" y="1334.9">samples = 1<tspan x="3214.7" dy="20">value = [1, 0]</tspan></text></g>
<g id="n105"><rect class="o" x="2924" y="722.5" width="128" height="51"/><text x="2988" y="744.5">samples = 5<tspan x="2988" dy="20">value = [5, 0]</tspan></text></g>
<g id="n106"><rect class="o" fill-opacity="0.895" x="3198.5" y="594.4" width="147" height="71"/><text x="3272" y="616.4">Fare &lt;= 27.525<tspan x="3272" dy="20">samples = 21</tspan><tspan x="3272" dy="20">value = [19, 2]</tspan></text></g>
<g id="n107"><rect class="o" fill-opacity="0.5" x="3075.5" y="712.5" width="201" height="71"/><text x="3176" y="734.5">PassengerId &lt;= 328.0<tspan x="3176" dy="20">samples = 3</tspan><tspan x="3176" dy="20">value = [2, 1]</tspan></text></g>
<g id="n108"><rect class="b" x="2952" y="840.6" width="128" height="51"/><text x="3016" y="862.6">samples = 1<tspan x="3016" dy="20">value = [0, 1]</tspan></text></g>
<g id="n109"><rect class="o" x="3102.5" y="840.6" width="128" height="51"/><text x="3166.5" y="862.6">samples = 2<tspan x="3166.5" dy="20">value = [2, 0]</tspan></text></g>
<g id="n110"><rect class="o" fill-opacity="0.941" x="3299" y="712.5" width="138" height="71"/><text x="3368" y="734.5">Fare &lt;= 86.29<tspan x="3368" dy="20">samples = 18</tspan><tspan x="3368" dy="20">value = [17, 1]</tspan></text></g>
<g id="n111"><rect class="o" x="3253.5" y="840.6" width="138" height="51"/><text x="3322.5" y="862.6">samples = 15<tspan x="3322.5" dy="20">value = [15, 0]</tspan></text></g>
<g id="n112"><rect class="o" fill-opacity="0.5" x="3414.5" y="830.6" width="147" height="71"/><text x="3488" y="852.6">Fare &lt;= 89.552<tspan x="3488" dy="20">samples = 3</tspan><tspan x="3488" dy="20">value = [2, 1]</tspan></text></g>
<g id="n113"><rect class="b" x="3278.5" y="958.6" width="128" height="51"/><text x="3342.5" y="980.6">samples = 1<tspan x="3342.5" dy="20">value = [0, 1]</tspan></text></g>
<g id="n114"><rect class="o" x="3429" y="958.6" width="128" height="51"/><text x="3493" y="980.6">samples = 2<tspan x="3493" dy="20">value = [2, 0]</tspan></text></g>
<g id="n115"><rect class="b" fill-opacity="0.3" x="3770" y="476.3" width="201" height="71"/><text x="3870.5" y="498.3">PassengerId &lt;= 740.0<tspan x="3870.5" dy="20">samples = 34</tspan><tspan x="3870.5" dy="20">value = [14, 20]</tspan></text></g>
<g id="n116"><rect class="b" fill-opacity="0.529" x="3801.5" y="594.4" width="138" height="71"/><text x="3870.5" y="616.4">Age &lt;= 57.0<tspan x="3870.5" dy="20">samples = 25</tspan><tspan x="3870.5" dy="20">value = [8, 17]</tspan></text></g>
<g id="n117"><rect class="b" fill-opacity="0.733" x="3737.5" y="712.5" width="147" height="71"/><text x="3811" y="734.5">Fare &lt;= 25.938<tspan x="3811" dy="20">samples = 19</tspan><tspan x="3811" dy="20">value = [4, 15]</tspan></text></g>
<g id="n118"><rect class="o" x="3585" y="840.6" width="128" height="51"/><text x="3649" y="862.6">samples = 1<tspan x="3649" dy="20">value = [1, 0]</tspan></text></g>
<g id="n119"><rect class="b" fill-opacity="0.8" x="3737.5" y="830.6" width="147" height="71"/><text x="3811" y="852.6">Fare &lt;= 37.812<tspan x="3811" dy="20">samples = 18</tspan><tspan x="3811" dy="20">value = [3, 15]</tspan></text></g>
<g id="n120"><rect class="b" x="3585" y="958.6" width="128" height="51"/><text x="3649" y="980.6">samples = 6<tspan x="3649" dy="20">value = [0, 6]</tspan></text></g>
<g id="n121"><rect class="b" fill-opacity="0.667" x="3737.5" y="948.6" width="147" height="71"/><text x="3811" y="970.6">Fare &lt;= 52.277<tspan x="3811" dy="20">samples = 12</tspan><tspan x="3811" dy="20">value = [3, 9]</tspan></text></g>
<g id="n122"><rect class="o" x="3653" y="1076.7" width="128" height="51"/><text x="3717" y="1098.7">samples = 2<tspan x="3717" dy="20">value = [2, 0]</tspan></text></g>
<g id="n123"><rect class="b" fill-opacity="0.889" x="3804.5" y="1066.7" width="201" height="71"/><text x="3905" y="1088.7">PassengerId &lt;= 695.0<tspan x="3905" dy="20">samples = 10</tspan><tspan x="3905" dy="20">value = [1, 9]</tspan></text></g>
<g id="n124"><rect class="b" x="3748" y="1194.8" width="128" height="51"/><text x="3812" y="1216.8">samples = 8<tspan x="3812" dy="20">value = [0, 8]</tspan></text></g>
<g id="n125"><rect class="w" x="3899.5" y="1184.8" width="201" height="71"/><text x="4000" y="1206.8">PassengerId &lt;= 718.5<tspan x="4000" dy="20">samples = 2</tspan><tspan x="4000" dy="20">value = [1, 1]</tspan></text></g>
<g id="n126"><rect class="o" x="3861" y="1312.9" width="128" height="51"/><text x="3925" y="1334.9">samples = 1<tspan x="3925" dy="20">value = [1, 0]</tspan></text></g>
<g id="n127"><rect class="b" x="4012" y="1312.9" width="128" height="51"/><text x="4076" y="1334.9">samples = 1<tspan x="4076" dy="20">value = [0, 1]</tspan></text></g>
<g id="n128"><rect class="o" fill-opacity="0.5" x="3908" y="712.5" width="128" height="71"/><text x="3972" y="734.5">SibSp &lt;= 0.5<tspan x="3972" dy="20">samples = 6</tspan><tspan x="3972" dy="20">value = [4, 2]</tspan></text></g>
<g id="n129"><rect class="o" fill-opacity="0.75" x="3908" y="830.6" width="128" height="71"/><text x="3972" y="852.6">Age &lt;= 71.0<tspan x="3972" dy="20">samples = 5</tspan><tspan x="3972" dy="20">value = [4, 1]</tspan></text></g>
<g id="n130"><rect class="o" x="3908" y="958.6" width="128" height="51"/><text x="3972" y="980.6">samples = 4<tspan x="3972" dy="20">value = [4, 0]</tspan></text></g>
<g id="n131"><rect class="b" x="4058.5" y="958.6" width="128" height="51"/><text x="4122.5" y="980.6">samples = 1<tspan x="4122.5" dy="20">value = [0, 1]</tspan></text></g>
<g id="n132"><rect class="b" x="4058.5" y="840.6" width="128" height="51"/><text x="4122.5" y="862.6">samples = 1<tspan x="4122.5" dy="20">value = [0, 1]</tspan></text></g>
<g id="n133"><rect class="o" fill-opacity="0.5" x="4021.5" y="594.4" width="201" height="71"/><text x="4122" y="616.4">PassengerId &lt;= 796.5<tspan x="4122" dy="20">samples = 9</tspan><tspan x="4122" dy="20">value = [6, 3]</tspan></text></g>
<g id="n134"><rect class="o" x="4058.5" y="722.5" width="128" height="51"/><text x="4122.5" y="744.5">samples = 4<tspan x="4122.5" dy="20">value = [4, 0]</tspan></text></g>
<g id="n135"><rect class="b" fill-opacity="0.333" x="4209" y="712.5" width="128" height="71"/><text x="4273" y="734.5">Age &lt;= 28.5<tspan x="4273" dy="20">samples = 5</tspan><tspan x="4273" dy="20">value = [2, 3]</tspan></text></g>
<g id="n136"><rect class="b" x="4209" y="840.6" width="128" height="51"/><text x="4273" y="862.6">samples = 2<tspan x="4273" dy="20">value = [0, 2]</tspan></text></g>
<g id="n137"><rect class="o" fill-opacity="0.5" x="4360" y="830.6" width="128" height="71"/><text x="4424" y="852.6">Age &lt;= 42.0<tspan x="4424" dy="20">samples = 3</tspan><tspan x="4424" dy="20">value = [2, 1]</tspan></text></g>
<g id="n138"><rect class="o" x="4209" y="958.6" width="128" height="51"/><text x="4273" y="980.6">samples = 2<tspan x="4273" dy="20">value = [2, 0]</tspan></text></g>
<g id="n139"><rect class="b" x="4360" y="958.6" width="128" height="51"/><text x="4424" y="980.6">samples = 1<tspan x="4424" dy="20">value = [0, 1]</tspan></text></g>
<g id="n140"><rect class="o" fill-opacity="0.864" x="5435" y="358.2" width="158" height="71"/><text x="5514" y="380.2">Age &lt;= 32.25<tspan x="5514" dy="20">samples = 267</tspan><tspan x="5514" dy="20">value = [235, 32]</tspan></text></g>
<g id="n141"><rect class="o" fill-opacity="0.821" x="5435" y="476.3" width="158" height="71"/><text x="5514" y="498.3">Age &lt;= 30.75<tspan x="5514" dy="20">samples = 184</tspan><tspan x="5514" dy="20">value = [156, 28]</tspan></text></g>
<g id="n142"><rect class="o" fill-opacity="0.855" x="5315" y="594.4" width="184" height="71"/><text x="5407" y="616.4">Embarked_S &lt;= 0.5<tspan x="5407" dy="20">samples = 166</tspan><tspan x="5407" dy="20">value = [145, 21]</tspan></text></g>
<g id="n143"><rect class="o" fill-opacity="0.533" x="4871.5" y="712.5" width="201" height="71"/><text x="4972" y="734.5">PassengerId &lt;= 439.0<tspan x="4972" dy="20">samples = 22</tspan><tspan x="4972" dy="20">value = [15, 7]</tspan></text></g>
<g id="n144"><rect class="o" fill-opacity="0.778" x="4670" y="830.6" width="132" height="71"/><text x="4736" y="852.6">Age &lt;= 13.5<tspan x="4736" dy="20">samples = 11</tspan><tspan x="4736" dy="20">value = [9, 2]</tspan></text></g>
<g id="n145"><rect class="b" x="4510.6" y="958.6" width="128" height="51"/><text x="4574.6" y="980.6">samples = 1<tspan x="4574.6" dy="20">value = [0, 1]</tspan></text></g>
<g id="n146"><rect class="o" fill-opacity="0.889" x="4662.5" y="948.6" width="147" height="71"/><text x="4736" y="970.6">Fare &lt;= 16.917<tspan x="4736" dy="20">samples = 10</tspan><tspan x="4736" dy="20">value = [9, 1]</tspan></text></g>
<g id="n147"><rect class="o" x="4540" y="1076.7" width="128" height="51"/><text x="4604" y="1098.7">samples = 7<tspan x="4604" dy="20">value = [7, 0]</tspan></text></g>
<g id="n148"><rect class="o" fill-opacity="0.5" x="4690.5" y="1066.7" width="133" height="71"/><text x="4757" y="1088.7">Pclass &lt;= 2.5<tspan x="4757" dy="20">samples = 3</tspan><tspan x="4757" dy="20">value = [2, 1]</tspan></text></g>
<g id="n149"><rect class="o" x="4618" y="1194.8" width="128" height="51"/><text x="4682" y="1216.8">samples = 2<tspan x="4682" dy="20">value = [2, 0]</tspan></text></g>
<g id="n150"><rect class="b" x="4769" y="1194.8" width="128" height="51"/><text x="4833" y="1216.8">samples = 1<tspan x="4833" dy="20">value = [0, 1]</tspan></text></g>
<g id="n151"><rect class="o" fill-opacity="0.167" x="4906" y="830.6" width="132" height="71"/><text x="4972" y="852.6">Age &lt;= 18.5<tspan x="4972" dy="20">samples = 11</tspan><tspan x="4972" dy="20">value = [6, 5]</tspan></text></g>
<g id="n152"><rect class="o" x="4833" y="958.6" width="128" height="51"/><text x="4897" y="980.6">samples = 3<tspan x="4897" dy="20">value = [3, 0]</tspan></text></g>
<g id="n153"><rect class="b" fill-opacity="0.4" x="4984" y="948.6" width="128" height="71"/><text x="5048" y="970.6">Age &lt;= 23.5<tspan x="5048" dy="20">samples = 8</tspan><tspan x="5048" dy="20">value = [3, 5]</tspan></text></g>
<g id="n154"><rect class="b" x="4868" y="1076.7" width="128" height="51"/><text x="4932" y="1098.7">samples = 3<tspan x="4932" dy="20">value = [0, 3]</tspan></text></g>
<g id="n155"><rect class="o" fill-opacity="0.333" x="5019.5" y="1066.7" width="201" height="71"/><text x="5120" y="1088.7">PassengerId &lt;= 566.0<tspan x="5120" dy="20">samples = 5</tspan><tspan x="5120" dy="20">value = [3, 2]</tspan></text></g>
<g id="n156"><rect class="b" x="5036" y="1194.8" width="128" height="51"/><text x="5100" y="1216.8">samples = 2<tspan x="5100" dy="20">value = [0, 2]</tspan></text></g>
<g id="n157"><rect class="o" x="5187" y="1194.8" width="128" height="51"/><text x="5251" y="1216.8">samples = 3<tspan x="5251" dy="20">value = [3, 0]</tspan></text></g>
<g id="n158"><rect class="o" fill-opacity="0.892" x="5327.5" y="712.5" width="158" height="71"/><text x="5406.5" y="734.5">Fare &lt;= 7.01<tspan x="5406.5" dy="20">samples = 144</tspan><tspan x="5406.5" dy="20">value = [130, 14]</tspan></text></g>
<g id="n159"><rect class="w" x="5278.5" y="830.6" width="128" height="71"/><text x="5342.5" y="852.6">Age &lt;= 22.0<tspan x="5342.5" dy="20">samples = 4</tspan><tspan x="5342.5" dy="20">value = [2, 2]</tspan></text></g>
<g id="n160"><rect class="o" x="5134.5" y="958.6" width="128" height="51"/><text x="5198.5" y="980.6">samples = 2<tspan x="5198.5" dy="20">value = [2, 0]</tspan></text></g>
<g id="n161"><rect class="b" x="5285" y="958.6" width="128" height="51"/><text x="5349" y="980.6">samples = 2<tspan x="5349" dy="20">value = [0, 2]</tspan></text></g>
<g id="n162"><rect class="o" fill-opacity="0.906" x="5429" y="830.6" width="158" height="71"/><text x="5508" y="852.6">Age &lt;= 9.5<tspan x="5508" dy="20">samples = 140</tspan><tspan x="5508" dy="20">value = [128, 12]</tspan></text></g>
<g id="n163"><rect class="o" fill-opacity="0.333" x="5436" y="948.6" width="128" height="71"/><text x="5500" y="970.6">SibSp &lt;= 2.5<tspan x="5500" dy="20">samples = 5</tspan><tspan x="5500" dy="20">value = [3, 2]</tspan></text></g>
<g id="n164"><rect class="b" x="5285" y="1076.7" width="128" height="51"/><text x="5349" y="1098.7">samples = 2<tspan x="5349" dy="20">value = [0, 2]</tspan></text></g>
<g id="n165"><rect class="o" x="5436" y="1076.7" width="128" height="51"/><text x="5500" y="1098.7">samples = 3<tspan x="5500" dy="20">value = [3, 0]</tspan></text></g>
<g id="n166"><rect class="o" fill-opacity="0.92" x="5587.5" y="948.6" width="201" height="71"/><text x="5688" y="970.6">PassengerId &lt;= 286.0<tspan x="5688" dy="20">samples = 135</tspan><tspan x="5688" dy="20">value = [125, 10]</tspan></text></g>
<g id="n167"><rect class="o" fill-opacity="0.841" x="5587.5" y="1066.7" width="201" height="71"/><text x="5688" y="1088.7">PassengerId &lt;= 283.5<tspan x="5688" dy="20">samples = 51</tspan><tspan x="5688" dy="20">value = [44, 7]</tspan></text></g>
<g id="n168"><rect class="o" fill-opacity="0.864" x="5449.6" y="1184.8" width="138" height="71"/><text x="5518.6" y="1206.8">Fare &lt;= 10.0<tspan x="5518.6" dy="20">samples = 50</tspan><tspan x="5518.6" dy="20">value = [44, 6]</tspan></text></g>
<g id="n169"><rect class="o" fill-opacity="0.778" x="5289.6" y="1302.9" width="138" height="71"/><text x="5358.6" y="1324.9">Age &lt;= 23.0<tspan x="5358.6" dy="20">samples = 33</tspan><tspan x="5358.6" dy="20">value = [27, 6]</tspan></text></g>
<g id="n170"><rect class="o" fill-opacity="0.882" x="5165.7" y="1421" width="138" height="71"/><text x="5234.7" y="1443">Age &lt;= 19.0<tspan x="5234.7" dy="20">samples = 19</tspan><tspan x="5234.7" dy="20">value = [17, 2]</tspan></text></g>
<g id="n171"><rect class="o" fill-opacity="0.5" x="5016" y="1549" width="128" height="51"/><text x="5080" y="1571">samples = 6<tspan x="5080" dy="20">value = [4, 2]</tspan></text></g>
<g id="n172"><rect class="o" x="5167" y="1549" width="138" height="51"/><text x="5236" y="1571">samples = 13<tspan x="5236" dy="20">value = [13, 0]</tspan></text></g>
<g id="n173"><rect class="o" fill-opacity="0.6" x="5325.6" y="1421" width="138" height="71"/><text x="5394.6" y="1443">Fare &lt;= 7.825<tspan x="5394.6" dy="20">samples = 14</tspan><tspan x="5394.6" dy="20">value = [10, 4]</tspan></text></g>
<g id="n174"><rect class="o" fill-opacity="0.25" x="5329" y="1549" width="128" height="51"/><text x="5393" y="1571">samples = 7<tspan x="5393" dy="20">value = [4, 3]</tspan></text></g>
<g id="n175"><rect class="o" fill-opacity="0.833" x="5480" y="1549" width="128" height="51"/><text x="5544" y="1571">samples = 7<tspan x="5544" dy="20">value = [6, 1]</tspan></text></g>
<g id="n176"><rect class="o" x="5449.6" y="1312.9" width="138" height="51"/><text x="5518.6" y="1334.9">samples = 17<tspan x="5518.6" dy="20">value = [17, 0]</tspan></text></g>
<g id="n177"><rect class="b" x="5624" y="1194.8" width="128" height="51"/><text x="5688" y="1216.8">samples = 1<tspan x="5688" dy="20">value = [0, 1]</tspan></text></g>
<g id="n178"><rect class="o" fill-opacity="0.963" x="5825.1" y="1066.7" width="147" height="71"/><text x="5898.6" y="1088.7">Fare &lt;= 51.698<tspan x="5898.6" dy="20">samples = 84</tspan><tspan x="5898.6" dy="20">value = [81, 3]</tspan></text></g>
<g id="n179"><rect class="o" fill-opacity="0.975" x="5798.1" y="1184.8" width="201" height="71"/><text x="5898.6" y="1206.8">PassengerId &lt;= 392.5<tspan x="5898.6" dy="20">samples = 82</tspan><tspan x="5898.6" dy="20">value = [80, 2]</tspan></text></g>
<g id="n180"><rect class="o" fill-opacity="0.917" x="5609.5" y="1302.9" width="201" height="71"/><text x="5710" y="1324.9">PassengerId &lt;= 386.0<tspan x="5710" dy="20">samples = 13</tspan><tspan x="5710" dy="20">value = [12, 1]</tspan></text></g>
<g id="n181"><rect class="o" x="5503" y="1431" width="138" height="51"/><text x="5572" y="1453">samples = 12<tspan x="5572" dy="20">value = [12, 0]</tspan></text></g>
<g id="n182"><rect class="b" x="5664" y="1431" width="128" height="51"/><text x="5728" y="1453">samples = 1<tspan x="5728" dy="20">value = [0, 1]</tspan></text></g>
<g id="n183"><rect class="o" fill-opacity="0.985" x="5834.1" y="1302.9" width="201" height="71"/><text x="5934.6" y="1324.9">PassengerId &lt;= 821.0<tspan x="5934.6" dy="20">samples = 69</tspan><tspan x="5934.6" dy="20">value = [68, 1]</tspan></text></g>
<g id="n184"><rect class="o" x="5848" y="1431" width="138" height="51"/><text x="5917" y="1453">samples = 56<tspan x="5917" dy="20">value = [56, 0]</tspan></text></g>
<g id="n185"><rect class="o" fill-opacity="0.917" x="6008.5" y="1421" width="201" height="71"/><text x="6109" y="1443">PassengerId &lt;= 828.0<tspan x="6109" dy="20">samples = 13</tspan><tspan x="6109" dy="20">value = [12, 1]</tspan></text></g>
<g id="n186"><rect class="b" x="5968" y="1549" width="128" height="51"/><text x="6032" y="1571">samples = 1<tspan x="6032" dy="20">value = [0, 1]</tspan></text></g>
<g id="n187"><rect class="o" x="6119" y="1549" width="138" height="51"/><text x="6188" y="1571">samples = 12<tspan x="6188" dy="20">value = [12, 0]</tspan></text></g>
<g id="n188"><rect class="w" x="6049" y="1184.8" width="147" height="71"/><text x="6122.5" y="1206.8">Fare &lt;= 64.998<tspan x="6122.5" dy="20">samples = 2</tspan><tspan x="6122.5" dy="20">value = [1, 1]</tspan></text></g>
<g id="n189"><rect class="b" x="6058.5" y="1312.9" width="128" height="51"/><text x="6122.5" y="1334.9">samples = 1<tspan x="6122.5" dy="20">value = [0, 1]</tspan></text></g>
<g id="n190"><rect class="o" x="6209" y="1312.9" width="128" height="51"/><text x="6273" y="1334.9">samples = 1<tspan x="6273" dy="20">value = [1, 0]</tspan></text></g>
<g id="n191"><rect class="o" fill-opacity="0.364" x="5561.5" y="594.4" width="138" height="71"/><text x="5630.5" y="616.4">Fare &lt;= 7.815<tspan x="5630.5" dy="20">samples = 18</tspan><tspan x="5630.5" dy="20">value = [11, 7]</tspan></text></g>
<g id="n192"><rect class="o" x="5566.8" y="722.5" width="128" height="51"/><text x="5630.8" y="744.5">samples = 3<tspan x="5630.8" dy="20">value = [3, 0]</tspan></text></g>
<g id="n193"><rect class="o" fill-opacity="0.125" x="5847.5" y="712.5" width="201" height="71"/><text x="5948" y="734.5">PassengerId &lt;= 532.0<tspan x="5948" dy="20">samples = 15</tspan><tspan x="5948" dy="20">value = [8, 7]</tspan></text></g>
<g id="n194"><rect class="o" fill-opacity="0.75" x="5874.1" y="830.6" width="147" height="71"/><text x="5947.6" y="852.6">Fare &lt;= 36.173<tspan x="5947.6" dy="20">samples = 5</tspan><tspan x="5947.6" dy="20">value = [4, 1]</tspan></text></g>
<g id="n195"><rect class="o" x="5812" y="958.6" width="128" height="51"/><text x="5876" y="980.6">samples = 4<tspan x="5876" dy="20">value = [4, 0]</tspan></text></g>
<g id="n196"><rect class="b" x="5962.5" y="958.6" width="128" height="51"/><text x="6026.5" y="980.6">samples = 1<tspan x="6026.5" dy="20">value = [0, 1]</tspan></text></g>
<g id="n197"><rect class="b" fill-opacity="0.333" x="6076.5" y="830.6" width="201" height="71"/><text x="6177" y="852.6">PassengerId &lt;= 608.5<tspan x="6177" dy="20">samples = 10</tspan><tspan x="6177" dy="20">value = [4, 6]</tspan></text></g>
<g id="n198"><rect class="b" x="6113" y="958.6" width="128" height="51"/><text x="6177" y="980.6">samples = 3<tspan x="6177" dy="20">value = [0, 3]</tspan></text></g>
<g id="n199"><rect class="o" fill-opacity="0.25" x="6265.2" y="948.6" width="201" height="71"/><text x="6365.7" y="970.6">PassengerId &lt;= 670.0<tspan x="6365.7" dy="20">samples = 7</tspan><tspan x="6365.7" dy="20">value = [4, 3]</tspan></text></g>
<g id="n200"><rect class="o" x="6241.6" y="1076.7" width="128" height="51"/><text x="6305.6" y="1098.7">samples = 2<tspan x="6305.6" dy="20">value = [2, 0]</tspan></text></g>
<g id="n201"><rect class="b" fill-opacity="0.333" x="6392.9" y="1066.7" width="201" height="71"/><text x="6493.4" y="1088.7">PassengerId &lt;= 757.5<tspan x="6493.4" dy="20">samples = 5</tspan><tspan x="6493.4" dy="20">value = [2, 3]</tspan></text></g>
<g id="n202"><rect class="b" x="6413" y="1194.8" width="128" height="51"/><text x="6477" y="1216.8">samples = 2<tspan x="6477" dy="20">value = [0, 2]</tspan></text></g>
<g id="n203"><rect class="o" fill-opacity="0.5" x="6565" y="1184.8" width="201" height="71"/><text x="6665.5" y="1206.8">PassengerId &lt;= 828.5<tspan x="6665.5" dy="20">samples = 3</tspan><tspan x="6665.5" dy="20">value = [2, 1]</tspan></text></g>
<g id="n204"><rect class="o" x="6525" y="1312.9" width="128" height="51"/><text x="6589" y="1334.9">samples = 2<tspan x="6589" dy="20">value = [2, 0]</tspan></text></g>
<g id="n205"><rect class="b" x="6676" y="1312.9" width="128" height="51"/><text x="6740" y="1334.9">samples = 1<tspan x="6740" dy="20">value = [0, 1]</tspan></text></g>
<g id="n206"><rect class="o" fill-opacity="0.949" x="6283.5" y="476.3" width="147" height="71"/><text x="6357" y="498.3">Fare &lt;= 11.387<tspan x="6357" dy="20">samples = 83</tspan><tspan x="6357" dy="20">value = [79, 4]</tspan></text></g>
<g id="n207"><rect class="o" fill-opacity="0.911" x="6288" y="594.4" width="138" height="71"/><text x="6357" y="616.4">Fare &lt;= 7.91<tspan x="6357" dy="20">samples = 49</tspan><tspan x="6357" dy="20">value = [45, 4]</tspan></text></g>
<g id="n208"><rect class="o" x="6288" y="722.5" width="138" height="51"/><text x="6357" y="744.5">samples = 28<tspan x="6357" dy="20">value = [28, 0]</tspan></text></g>
<g id="n209"><rect class="o" fill-opacity="0.765" x="6559" y="712.5" width="138" height="71"/><text x="6628" y="734.5">Fare &lt;= 7.988<tspan x="6628" dy="20">samples = 21</tspan><tspan x="6628" dy="20">value = [17, 4]</tspan></text></g>
<g id="n210"><rect class="b" fill-opacity="0.5" x="6564" y="830.6" width="128" height="71"/><text x="6628" y="852.6">Age &lt;= 38.0<tspan x="6628" dy="20">samples = 3</tspan><tspan x="6628" dy="20">value = [1, 2]</tspan></text></g>
<g id="n211"><rect class="o" x="6489" y="958.6" width="128" height="51"/><text x="6553" y="980.6">samples = 1<tspan x="6553" dy="20">value = [1, 0]</tspan></text></g>
<g id="n212"><rect class="b" x="6640" y="958.6" width="128" height="51"/><text x="6704" y="980.6">samples = 2<tspan x="6704" dy="20">value = [0, 2]</tspan></text></g>
<g id="n213"><rect class="o" fill-opacity="0.875" x="6791" y="830.6" width="138" height="71"/><text x="6860" y="852.6">Age &lt;= 44.5<tspan x="6860" dy="20">samples = 18</tspan><tspan x="6860" dy="20">value = [16, 2]</tspan></text></g>
<g id="n214"><rect class="o" x="6791" y="958.6" width="138" height="51"/><text x="6860" y="980.6">samples = 11<tspan x="6860" dy="20">value = [11, 0]</tspan></text></g>
<g id="n215"><rect class="o" fill-opacity="0.6" x="6952" y="948.6" width="128" height="71"/><text x="7016" y="970.6">Age &lt;= 46.0<tspan x="7016" dy="20">samples = 7</tspan><tspan x="7016" dy="20">value = [5, 2]</tspan></text></g>
<g id="n216"><rect class="b" x="6832" y="1076.7" width="128" height="51"/><text x="6896" y="1098.7">samples = 1<tspan x="6896" dy="20">value = [0, 1]</tspan></text></g>
<g id="n217"><rect class="o" fill-opacity="0.8" x="6983" y="1066.7" width="128" height="71"/><text x="7047" y="1088.7">Age &lt;= 56.5<tspan x="7047" dy="20">samples = 6</tspan><tspan x="7047" dy="20">value = [5, 1]</tspan></text></g>
<g id="n218"><rect class="o" x="6847" y="1194.8" width="128" height="51"/><text x="6911" y="1216.8">samples = 3<tspan x="6911" dy="20">value = [3, 0]</tspan></text></g>
<g id="n219"><rect class="o" fill-opacity="0.5" x="6997" y="1184.8" width="128" height="71"/><text x="7061" y="1206.8">Age &lt;= 64.0<tspan x="7061" dy="20">samples = 3</tspan><tspan x="7061" dy="20">value = [2, 1]</tspan></text></g>
<g id="n220"><rect class="b" x="6921" y="1312.9" width="128" height="51"/><text x="6985" y="1334.9">samples = 1<tspan x="6985" dy="20">value = [0, 1]</tspan></text></g>
<g id="n221"><rect class="o" x="7072" y="1312.9" width="128" height="51"/><text x="7136" y="1334.9">samples = 2<tspan x="7136" dy="20">value = [2, 0]</tspan></text></g>
<g id="n222"><rect class="o" x="6448.6" y="604.4" width="138" height="51"/><text x="6517.6" y="626.4">samples = 34<tspan x="6517.6" dy="20">value = [34, 0]</tspan></text></g>
</g>
</svg>
